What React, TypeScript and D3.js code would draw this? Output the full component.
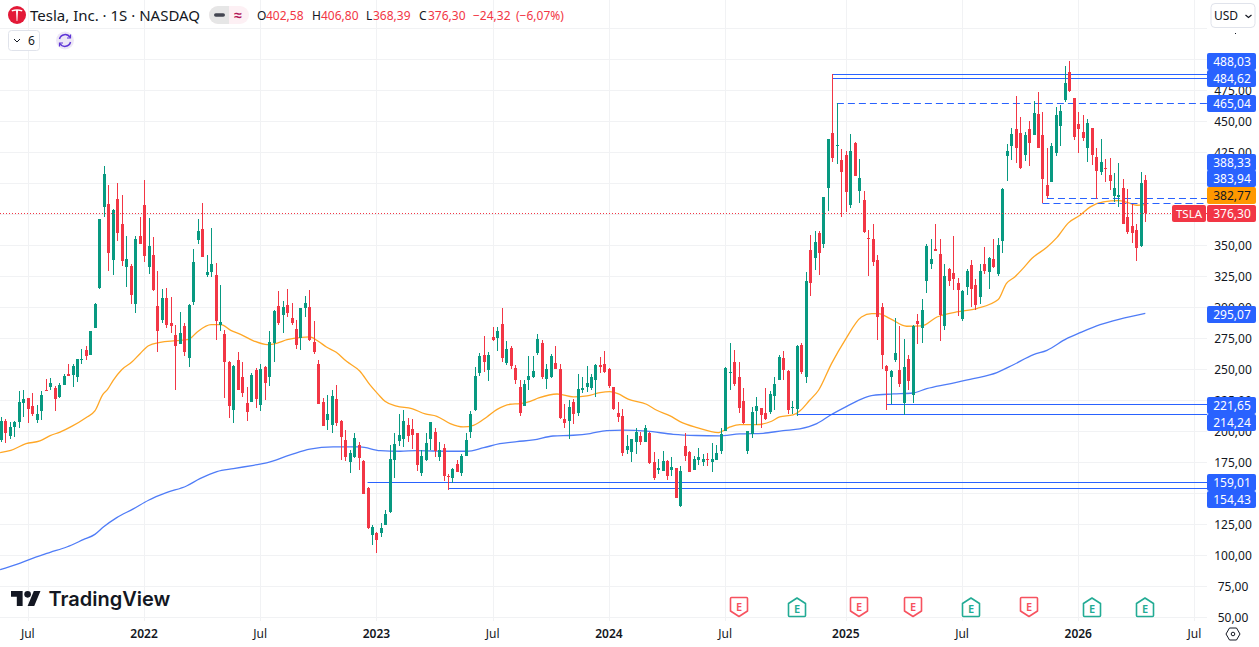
import React from 'react';
import * as d3 from 'd3';

const WIDTH = 1259;
const HEIGHT = 647;
const PANE_RIGHT = 1207;
const PANE_BOTTOM = 621;
const FONT = '"Noto Sans", sans-serif';

const GREEN = '#089981';
const RED = '#f23645';
const BLUE = '#2962ff';
const ORANGE = '#ff9800';
const TEXT = '#131722';
const GRID = '#f1f2f4';

// weekly candles, oldest first
const opens = [
  192.7,208.6,195.9,203.2,207.2,222.5,226.6,220.1,208.8,216.1,
  233.0,235.4,234.6,227.4,237.1,245.9,245.1,243.5,257.2,265.3,
  261.3,283.0,315.3,380.6,383.0,337.9,387.0,366.9,332.2,333.0,
  302.4,357.2,382.2,332.2,341.9,300.8,289.5,307.2,287.1,277.4,
  270.1,284.6,258.8,304.0,354.0,362.9,325.8,328.2,325.8,285.4,
  278.2,255.6,216.9,257.2,243.5,222.5,223.4,249.2,220.9,251.6,
  243.5,270.9,300.8,293.5,301.6,291.1,282.2,275.0,299.2,300.0,
  271.8,254.0,223.4,208.9,204.8,225.8,208.1,192.7,175.0,179.0,
  188.7,175.8,154.0,116.1,117.7,117.7,124.2,134.7,176.6,191.9,
  193.5,204.8,201.6,198.4,166.1,176.6,193.5,199.2,179.0,186.3,
  164.2,162.1,173.4,166.1,179.8,199.2,216.9,246.8,261.3,249.2,
  275.8,275.0,286.3,254.8,266.9,250.8,235.5,220.2,241.1,243.5,
  262.9,271.0,241.9,243.5,254.8,250.0,209.7,208.1,223.4,214.5,
  233.1,235.5,234.7,241.1,253.3,254.1,250.1,235.5,214.6,212.2,
  184.7,183.1,191.2,196.0,191.2,198.4,175.1,168.6,167.8,175.9,
  168.6,170.2,139.6,188.0,183.1,168.6,176.7,175.1,177.5,175.1,
  176.7,183.9,200.1,246.8,255.7,243.6,224.2,183.9,197.6,216.2,
  218.6,214.6,215.4,228.3,241.2,258.9,248.4,219.4,217.8,269.4,
  243.6,346.0,339.5,359.7,350.8,396.0,440.3,430.7,418.5,422.6,
  382.3,432.3,393.6,386.3,355.7,354.9,337.9,300.0,252.4,243.6,
  257.3,249.2,222.6,258.1,229.1,288.7,283.1,321.0,334.7,346.8,
  342.8,284.7,330.7,327.4,319.4,290.3,316.1,333.9,317.8,308.1,
  334.7,328.2,338.7,326.6,353.2,421.8,429.9,443.6,440.4,422.6,
  443.6,438.8,455.7,438.8,398.4,400.9,424.2,446.0,467.0,489.6,
  468.6,447.6,441.2,428.3,444.4,421.0,408.9,412.1,406.5,389.6,
  388.8,396.0,372.6,365.4,362.1,349.2,402.58,
];
const highs = [
  211.3,210.2,207.2,208.6,232.2,233.0,227.1,230.6,220.9,232.2,
  241.9,242.7,236.3,238.7,246.5,254.0,254.0,258.0,266.1,268.5,
  280.6,303.2,370.9,413.7,398.3,379.0,400.0,390.3,357.2,334.6,
  357.2,372.5,402.4,371.7,356.4,329.0,314.5,315.3,308.0,285.4,
  295.9,287.1,302.4,346.7,370.9,383.8,341.9,363.7,335.4,317.7,
  281.4,256.4,253.2,263.7,255.6,235.4,246.7,250.8,254.0,252.4,
  280.6,297.5,312.9,304.8,314.5,303.2,289.5,299.2,308.9,313.7,
  288.7,257.3,226.6,229.0,233.1,237.1,208.9,200.8,184.7,198.4,
  191.1,176.6,154.8,124.2,118.6,125.8,136.3,188.7,198.4,213.7,
  216.9,210.5,209.7,198.4,184.7,198.4,207.3,202.4,191.1,189.5,
  165.3,170.2,176.6,181.4,198.4,216.1,251.6,262.9,276.6,263.7,
  283.9,283.9,299.2,272.6,268.5,253.2,241.1,241.1,260.5,260.5,
  278.2,273.4,254.0,262.1,268.5,254.0,221.8,225.0,225.8,246.0,
  243.5,252.4,246.0,254.0,259.7,264.6,250.9,235.5,223.4,217.8,
  196.8,193.6,202.5,199.2,204.9,199.2,183.1,177.5,183.9,176.7,
  179.1,170.2,171.8,198.4,183.9,179.9,186.3,181.5,182.3,190.4,
  188.8,202.5,251.7,271.0,265.4,255.7,234.7,200.1,219.4,227.5,
  218.6,234.7,232.3,243.6,261.3,264.6,249.2,224.2,269.4,271.0,
  328.2,358.1,361.3,361.3,388.7,435.5,488.0,465.0,427.4,425.8,
  439.5,433.1,419.4,393.6,362.1,367.0,342.0,303.2,253.2,249.2,
  291.1,284.7,274.2,261.3,285.5,294.4,306.5,350.8,354.9,367.0,
  354.9,334.7,331.5,357.3,323.4,313.7,330.7,337.9,322.6,334.7,
  348.4,340.3,354.9,355.7,396.0,431.5,444.4,470.2,453.3,441.2,
  450.0,466.2,473.4,457.3,428.3,432.3,461.3,462.9,494.4,498.4,
  468.6,457.3,454.9,451.7,444.4,428.3,435.5,419.4,420.2,408.1,
  416.2,403.3,395.2,383.1,367.0,408.9,406.8,
];
const lows = [
  191.4,190.3,193.8,195.7,202.4,211.5,206.4,212.1,206.4,208.8,
  232.2,233.0,216.1,226.6,237.1,244.3,235.4,239.5,254.0,257.2,
  261.3,283.0,314.5,372.5,329.0,325.8,353.2,333.0,316.1,302.4,
  295.1,350.8,336.2,326.6,312.9,263.7,287.1,283.0,279.0,233.0,
  270.1,260.4,251.6,301.6,350.8,340.3,324.2,324.2,273.3,280.6,
  226.6,210.4,206.4,233.0,227.4,208.0,223.4,218.5,216.1,225.0,
  236.3,255.6,285.4,279.0,291.9,285.4,266.1,265.3,291.9,272.6,
  262.1,221.8,204.0,200.8,198.4,204.0,176.6,175.8,166.1,178.2,
  168.5,149.2,121.0,108.1,101.6,114.5,124.2,133.9,162.1,187.9,
  187.1,191.1,185.5,167.7,163.7,175.8,184.7,179.0,175.8,159.7,
  152.4,158.1,166.9,163.7,179.8,194.4,216.1,244.3,247.6,240.3,
  272.6,264.5,255.6,253.2,250.0,237.9,212.1,220.2,233.1,242.7,
  261.3,241.9,233.9,242.7,250.0,209.7,202.4,193.5,205.6,212.1,
  230.6,231.4,233.1,227.4,246.8,246.8,234.7,217.0,207.3,179.9,
  181.5,175.1,181.5,188.8,191.2,173.4,160.5,165.4,167.8,160.5,
  163.8,146.0,138.8,175.9,167.0,168.6,172.6,171.8,171.8,167.0,
  176.7,181.5,200.1,233.1,236.3,214.6,205.7,181.5,194.4,204.9,
  202.5,208.9,213.8,217.0,241.2,241.2,213.8,213.8,212.2,246.0,
  238.7,308.9,329.9,325.8,347.6,377.4,416.9,415.3,372.6,376.6,
  379.9,405.7,383.9,359.7,325.0,333.1,273.4,250.0,217.0,221.8,
  255.7,235.5,212.9,233.1,222.6,270.2,271.0,311.3,330.7,345.2,
  272.6,281.5,317.0,313.7,292.8,288.7,309.7,300.0,297.6,302.4,
  326.6,314.5,331.5,325.0,343.6,401.7,418.6,416.2,411.3,417.8,
  413.8,438.8,428.3,383.94,388.33,400.9,421.8,429.9,465.4,473.4,
  434.7,424.2,433.9,417.0,414.6,387.1,406.5,400.9,394.4,384.7,
  380.7,367.0,358.9,351.7,337.1,348.4,368.39,
];
const closes = [
  208.0,198.4,203.2,207.2,223.4,225.8,217.7,213.7,213.7,229.0,
  232.2,238.7,225.8,237.1,244.3,244.3,252.4,258.0,258.0,260.4,
  280.6,302.4,370.9,407.2,343.5,378.2,359.6,337.1,338.7,309.6,
  354.8,350.8,341.1,349.2,313.7,280.6,307.2,285.4,284.6,268.5,
  279.0,263.7,301.6,336.2,361.2,340.3,328.2,334.6,288.7,287.9,
  255.6,220.1,252.4,233.0,230.6,215.3,245.1,225.8,250.0,238.7,
  271.7,296.7,287.1,300.0,295.1,287.1,269.3,299.2,303.2,273.4,
  263.7,221.8,204.0,213.7,228.2,206.4,195.2,179.0,182.3,194.3,
  178.2,149.2,121.8,122.6,112.1,121.8,133.1,177.4,189.5,196.8,
  208.1,196.0,196.8,172.6,179.8,190.3,207.3,183.9,184.7,163.7,
  163.7,169.4,166.9,179.8,192.7,213.7,244.3,260.5,255.6,261.3,
  273.4,280.6,258.9,266.1,252.4,241.1,214.5,237.9,244.3,248.4,
  274.2,243.5,250.0,260.5,250.0,210.5,206.4,219.3,213.7,233.9,
  234.7,238.7,243.5,253.2,251.7,247.6,236.3,217.8,211.3,182.3,
  188.0,193.6,199.2,191.2,202.5,174.3,162.1,170.2,175.9,163.8,
  171.0,146.0,167.8,179.9,167.0,177.5,179.1,177.5,177.2,177.5,
  182.3,197.6,250.9,247.6,238.0,218.6,206.5,200.1,215.4,220.2,
  212.9,209.7,229.9,238.0,259.7,249.2,217.0,219.9,268.6,247.6,
  321.0,319.4,352.4,343.6,388.7,435.5,420.2,431.2,408.9,392.8,
  425.8,405.7,404.0,360.5,354.9,336.3,291.9,261.3,248.4,248.4,
  262.9,237.9,251.6,240.3,284.7,286.3,297.6,349.2,338.7,345.2,
  293.6,325.0,321.0,322.6,313.7,312.9,329.0,314.5,301.6,329.0,
  329.0,339.5,332.3,350.0,395.2,425.9,439.6,428.3,412.1,438.8,
  432.3,456.5,428.3,403.3,389.6,429.9,454.9,458.1,480.7,474.2,
  437.1,443.6,436.3,448.4,422.6,409.7,417.0,411.6,401.7,396.0,
  390.4,367.0,360.5,359.7,347.6,400.0,376.3,
];

const ma50Weeks = [
  -0.2,2.2,5.6,8.7,11,13.2,15.8,19,21,22.8,23.8,25.1,27,29.2,31.1,33,35.6,39,42,43.9,47,49.2,51.4,53.6,56.6,59.6,61.8,64,
  67.2,69.1,70.9,72.8,75,77.3,80.3,82.5,84.4,85.9,88.5,91.9,94.9,97.5,100.5,103.4,105.7,108.7,110.9,113.9,116.1,118.4,120.3,124.4,128.1,131.1,
  134,136.2,138,140.3,144.4,146.7,149.7,151.9,155.7,160.5,163.1,165.3,169,172.4,174.2,177.2,178.7,180.9,182.9,185.8,188.8,192.5,194.8,196.3,198.9,
  202.6,206,209.4,213.8,218.3,223.1,224.9,226.8,228.6,230.6,233.9,236.2,238.8,241.4,243.7,246.6,250,251.9,254.1,256,
];
const ma50Values = [
  182.8,184.6,190.0,192.2,196.5,199.4,204.0,211.0,216.4,229.8,233.6,241.1,249.7,255.6,262.6,269.0,271.7,273.1,274.2,280.1,286.0,286.0,281.4,278.2,272.8,269.9,271.2,273.9,
  275.8,276.1,272.8,268.0,263.7,256.4,248.4,237.6,229.8,224.2,220.4,218.3,214.0,212.1,206.2,203.5,204.8,211.6,217.5,221.8,222.3,224.2,226.9,230.1,227.7,228.5,
  231.2,232.0,230.4,225.9,221.8,217.0,212.4,207.8,203.0,199.0,203.5,205.4,205.4,208.1,211.6,213.2,216.4,225.0,233.1,254.6,273.4,292.2,294.9,294.9,290.9,
  284.7,285.0,292.2,296.3,299.0,306.2,319.1,324.5,331.2,339.3,348.2,356.2,368.1,374.2,381.0,385.0,386.0,384.7,382.3,382.77,
];
const ma200Weeks = [
  -0.2,3.5,7.2,11,14.7,18.4,21,22.9,25.9,29.6,33,37,41.5,44.5,48.3,52,56.5,59.4,64.7,69.1,74.3,80.3,84.8,
  89.3,93,96.7,100.5,104.2,108,111.6,115.4,119.1,123.5,128,131.8,135.5,139.2,144.5,150.4,155.6,160.5,165.3,170.5,175,178.7,182.5,185.5,
  189.2,193,195.1,199.6,204,207.1,211.6,217.5,222.8,226.5,231,234,238.4,241.4,245.9,250.3,256,
];
const ma200Values = [
  88.4,92.7,97.8,102.4,106.7,112.6,116.9,122.8,130.4,137.4,144.4,150.5,155.9,161.8,167.5,169.9,172.6,174.5,180.9,185.7,187.4,187.4,184.4,
  183.9,184.4,184.1,183.9,183.9,186.8,190.0,191.7,193.0,196.2,196.8,198.2,200.6,200.9,200.1,197.6,196.6,196.3,197.9,198.4,200.6,201.9,206.2,212.9,
  220.1,226.8,229.0,230.1,230.9,234.4,237.9,242.4,247.3,253.7,261.8,265.3,274.7,279.5,286.0,290.5,295.07,
];

// the axis hides 400, 375 and 150 behind the price labels, their grid lines stay
const priceTicks = [475, 450, 425, 350, 325, 300, 275, 250, 225, 200, 175, 125, 100, 75, 50];
const gridPrices = [525, 500, 400, 375, 150, ...priceTicks];
const timeTickWeeks = [6, 32, 58, 84, 110, 136, 162, 189, 215, 241, 267];
const timeTickLabels = ['Jul', '2022', 'Jul', '2023', 'Jul', '2024', 'Jul', '2025', 'Jul', '2026', 'Jul'];

const levelValues = [488.03, 484.62, 465.04, 388.33, 383.94, 221.65, 214.24, 159.01, 154.43];
const levelStartWeeks = [186, 186, 187, 234, 233, 198, 178, 82, 100];
const levelDashed = [false, false, true, true, true, false, false, false, false];

const earningsWeeks = [165, 178, 192, 204, 217, 230, 244, 256];
const earningsBeat = [false, true, false, false, true, false, true, true];

const lastClose = 376.3;
const ma50Last = 382.77;
const ma200Last = 295.07;

const x = d3.scaleLinear().domain([0, 256]).range([1, 1145.3]);
const y = d3.scaleLinear().domain([50, 475]).range([617.3, 90.3]);
const fmt = (v: number) => v.toFixed(2).replace('.', ',');

const lineFor = (weeks: number[], values: number[]) =>
  d3
    .line<number>()
    .x((w) => x(w))
    .y((_, i) => y(values[i]))
    .curve(d3.curveMonotoneX)(weeks);

const PriceLabel = ({ y0, h, text, bg, fg = '#fff' }: { y0: number; h: number; text: string; bg: string; fg?: string }) => (
  <g>
    <rect x={PANE_RIGHT} y={y0} width={49} height={h} rx={2} fill={bg} />
    <text x={1232} y={y0 + h / 2 + 4.3} textAnchor="middle" fontSize={12} fill={fg}>
      {text}
    </text>
  </g>
);

const EarningsFlag = ({ week, beat }: { week: number; beat: boolean }) => {
  const cx = Math.round(x(week));
  const c = beat ? '#22ab94' : '#f7525f';
  const d = beat
    ? 'M-8.5,-3.5 L0,-9 L8.5,-3.5 L8.5,8.5 Q8.5,9.5 7.5,9.5 L-7.5,9.5 Q-8.5,9.5 -8.5,8.5 Z'
    : 'M-8.5,-8.5 Q-8.5,-9.5 -7.5,-9.5 L7.5,-9.5 Q8.5,-9.5 8.5,-8.5 L8.5,4 L0,9.5 L-8.5,4 Z';
  return (
    <g transform={`translate(${cx},607)`}>
      <path d={d} fill="#fff" stroke={c} strokeWidth={1.6} strokeLinejoin="round" />
      <text y={beat ? 5.5 : 3.5} textAnchor="middle" fontSize={11} fontWeight={600} fill={c}>
        E
      </text>
    </g>
  );
};

export default function App() {
  const snap = (v: number) => Math.round(v) + 0.5;
  return (
    <div style={{ position: 'fixed', left: 0, top: 0, width: WIDTH, height: HEIGHT, background: '#fff' }}>
      <svg width={WIDTH} height={HEIGHT} style={{ display: 'block', fontFamily: FONT }}>
        <defs>
          <clipPath id="pane">
            <rect x={0} y={0} width={PANE_RIGHT} height={PANE_BOTTOM} />
          </clipPath>
        </defs>

        {gridPrices.map((p) => (
          <line key={p} x1={0} x2={PANE_RIGHT} y1={snap(y(p))} y2={snap(y(p))} stroke={GRID} />
        ))}
        {timeTickWeeks.map((w) => (
          <line key={w} x1={snap(x(w))} x2={snap(x(w))} y1={0} y2={PANE_BOTTOM} stroke={GRID} />
        ))}

        <g clipPath="url(#pane)">
          <path d={lineFor(ma200Weeks, ma200Values) ?? ''} fill="none" stroke="#4f7cf7" strokeWidth={1.3} />
          <path d={lineFor(ma50Weeks, ma50Values) ?? ''} fill="none" stroke="#ffa726" strokeWidth={1.3} />

          {levelValues.map((v, i) => (
            <line
              key={v}
              x1={x(levelStartWeeks[i])}
              x2={PANE_RIGHT}
              y1={snap(y(v))}
              y2={snap(y(v))}
              stroke={BLUE}
              strokeDasharray={levelDashed[i] ? '7 4' : undefined}
            />
          ))}

          {opens.map((o, i) => {
            const c = closes[i];
            const col = c >= o ? GREEN : RED;
            const cx = Math.round(x(i));
            const top = Math.round(y(Math.max(o, c)));
            const bot = Math.round(y(Math.min(o, c)));
            const hi = Math.round(y(highs[i]));
            const lo = Math.round(y(lows[i]));
            return (
              <g key={i} fill={col}>
                <rect x={cx} y={hi} width={1} height={Math.max(1, lo - hi)} />
                <rect x={cx - 1} y={top} width={3} height={Math.max(1, bot - top)} />
              </g>
            );
          })}

          <line x1={0} x2={PANE_RIGHT} y1={snap(y(lastClose))} y2={snap(y(lastClose))} stroke={RED} strokeDasharray="1 2" />
        </g>

        {earningsWeeks.map((w, i) => (
          <EarningsFlag key={w} week={w} beat={earningsBeat[i]} />
        ))}

        {/* price axis */}
        {priceTicks.map((p) => (
          <text key={p} x={1233} y={y(p) + 4.3} textAnchor="middle" fontSize={12} fill={TEXT}>
            {fmt(p)}
          </text>
        ))}
        <PriceLabel y0={53} h={17} text={fmt(levelValues[0])} bg={BLUE} />
        <PriceLabel y0={70} h={17} text={fmt(levelValues[1])} bg={BLUE} />
        <PriceLabel y0={95} h={17} text={fmt(levelValues[2])} bg={BLUE} />
        <PriceLabel y0={154} h={17} text={fmt(levelValues[3])} bg={BLUE} />
        <PriceLabel y0={170} h={17} text={fmt(levelValues[4])} bg={BLUE} />
        <PriceLabel y0={187} h={17} text={fmt(ma50Last)} bg={ORANGE} fg={TEXT} />
        <PriceLabel y0={205} h={17} text={fmt(lastClose)} bg={RED} />
        <rect x={1172} y={205} width={34} height={17} rx={2} fill={RED} />
        <text x={1189} y={218} textAnchor="middle" fontSize={11.5} fill="#fff">
          TSLA
        </text>
        <PriceLabel y0={306} h={17} text={fmt(ma200Last)} bg={BLUE} />
        <PriceLabel y0={397} h={17} text={fmt(levelValues[5])} bg={BLUE} />
        <PriceLabel y0={414} h={17} text={fmt(levelValues[6])} bg={BLUE} />
        <PriceLabel y0={474} h={17} text={fmt(levelValues[7])} bg={BLUE} />
        <PriceLabel y0={491} h={17} text={fmt(levelValues[8])} bg={BLUE} />

        {/* time axis */}
        {timeTickWeeks.map((w, i) => (
          <text
            key={w}
            x={x(w)}
            y={637.5}
            textAnchor="middle"
            fontSize={12}
            fontWeight={timeTickLabels[i] === 'Jul' ? 400 : 600}
            fill={TEXT}
          >
            {timeTickLabels[i]}
          </text>
        ))}
        <g transform="translate(1233,634)" fill="none" stroke={TEXT} strokeWidth={1}>
          <path d="M-7,0 L-3.5,-6 L3.5,-6 L7,0 L3.5,6 L-3.5,6 Z" strokeLinejoin="round" />
          <circle r={1.8} />
        </g>

        {/* header */}
        <circle cx={17} cy={15} r={9} fill="#e31937" />
        <path d="M11.5,10.2 Q17,8.2 22.5,10.2 L22,11.6 Q19.5,10.8 18,10.8 L17.4,21 L16.6,21 L16,10.8 Q14.5,10.8 12,11.6 Z" fill="#fff" />
        <text x={30} y={20.5} fontSize={15} fill={TEXT}>
          Tesla, Inc. · 1S · NASDAQ
        </text>
        <rect x={209} y={6} width={40} height={18} rx={9} fill="#fdf0f4" />
        <path d="M218,6 H229 V24 H218 A9,9 0 0 1 218,6 Z" fill="#e6e6e6" />
        <rect x={214} y={13.2} width={11} height={3.6} rx={1.8} fill="#434651" />
        <text x={238} y={20} textAnchor="middle" fontSize={14} fontWeight={600} fill="#b2185a">
          ≈
        </text>
        {[
          ['O', 257, 266, '402,58'],
          ['H', 312, 321, '406,80'],
          ['L', 366, 373, '368,39'],
          ['C', 419, 428, '376,30'],
        ].map(([k, kx, vx, v]) => (
          <g key={k as string} fontSize={12}>
            <text x={kx as number} y={20} fill={TEXT}>
              {k}
            </text>
            <text x={vx as number} y={20} fill={RED}>
              {v}
            </text>
          </g>
        ))}
        <text x={473} y={20} fontSize={12} fill={RED}>
          −24,32
        </text>
        <text x={516} y={20} fontSize={12} fill={RED}>
          (−6,07%)
        </text>

        <rect x={8.5} y={30.5} width={31} height={20} rx={3} fill="#fff" stroke="#e0e3eb" />
        <path d="M14,39 L17,42 L20,39" fill="none" stroke={TEXT} strokeWidth={1} />
        <text x={28} y={45} fontSize={12} fill={TEXT}>
          6
        </text>
        <circle cx={65} cy={40.5} r={9} fill="#ede7f6" />
        <g fill="none" stroke="#5e35d6" strokeWidth={1.5}>
          <path d="M59.5,39 A5.7,5.7 0 0 1 70,37.5" />
          <path d="M70.5,42 A5.7,5.7 0 0 1 60,43.5" />
          <path d="M70.5,34.5 V38 H67" strokeWidth={1.2} />
          <path d="M59.5,46.5 V43 H63" strokeWidth={1.2} />
        </g>

        {/* currency */}
        <rect x={1211} y={3.5} width={44} height={24} rx={4} fill="#fff" stroke="#e0e3eb" />
        <text x={1214} y={20} fontSize={12} fill={TEXT}>
          USD
        </text>
        <path d="M1245.5,15 L1248.5,17.5 L1251.5,15" fill="none" stroke={TEXT} strokeWidth={1.2} />
        <rect x={1235} y={33} width={1} height={1} fill={TEXT} />

        {/* logo */}
        <g transform="translate(11,587.7) scale(0.83)" fill="#131722">
          <path d="M14 22H7V11H0V4h14v18zM28 22h-8l7.5-18h8L28 22z" />
          <circle cx={20} cy={8} r={4} />
        </g>
        <text x={48.5} y={605.5} fontFamily="Inter, sans-serif" fontSize={20} fontWeight={600} fill="#131722">
          TradingView
        </text>
      </svg>
    </div>
  );
}
